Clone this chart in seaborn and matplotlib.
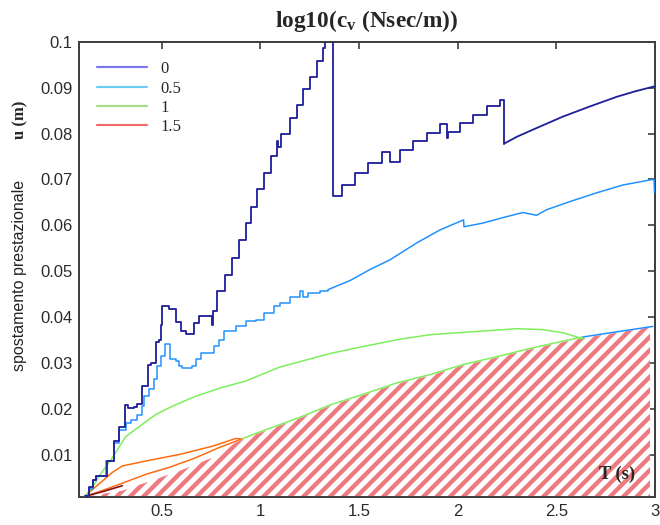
import matplotlib
matplotlib.use("Agg")
import matplotlib.pyplot as plt
from matplotlib.lines import Line2D
import seaborn as sns
import numpy as np

# ---------------- data ----------------
legend_labels = ["0", "0.5", "1", "1.5"]
x_ticks = [0.5, 1, 1.5, 2, 2.5, 3]
x_tick_labels = ["0.5", "1", "1.5", "2", "2.5", "3"]
y_ticks = [0.01, 0.02, 0.03, 0.04, 0.05, 0.06, 0.07, 0.08, 0.09, 0.1]
y_tick_labels = ["0.01", "0.02", "0.03", "0.04", "0.05", "0.06", "0.07", "0.08", "0.09", "0.1"]

# series "0" (step part, then smooth tail)
s0_step_x = [0.110, 0.130, 0.150, 0.166, 0.225, 0.259, 0.285, 0.315, 0.330, 0.360, 0.375, 0.401,
             0.431, 0.445, 0.470, 0.487, 0.496, 0.501, 0.538, 0.572, 0.597, 0.622, 0.665, 0.690,
             0.756, 0.758, 0.781, 0.820, 0.857, 0.893, 0.928, 0.952, 0.984, 1.019, 1.053, 1.083,
             1.092, 1.105, 1.150, 1.185, 1.217, 1.250, 1.286, 1.318, 1.330, 1.370, 1.413, 1.480,
             1.546, 1.615, 1.657, 1.708, 1.776, 1.843, 1.911, 1.945, 1.953, 2.012, 2.080, 2.147,
             2.215, 2.235]
s0_step_y = [0.0010, 0.0030, 0.0045, 0.0054, 0.0086, 0.0130, 0.0160, 0.0208, 0.0202, 0.0205, 0.0210, 0.0251,
             0.0295, 0.0300, 0.0345, 0.0350, 0.0384, 0.0424, 0.0417, 0.0390, 0.0370, 0.0364, 0.0388, 0.0403,
             0.0384, 0.0413, 0.0457, 0.0493, 0.0528, 0.0569, 0.0606, 0.0640, 0.0680, 0.0713, 0.0752, 0.0783,
             0.0770, 0.0800, 0.0834, 0.0862, 0.0897, 0.0924, 0.0958, 0.0986, 0.1050, 0.0663, 0.0688, 0.0714,
             0.0736, 0.0759, 0.0739, 0.0765, 0.0783, 0.0802, 0.0821, 0.0790, 0.0804, 0.0824, 0.0841, 0.0859,
             0.0872, 0.0778]
s0_tail_x = [2.235, 2.300, 2.400, 2.534, 2.670, 2.806, 2.900, 3.000]
s0_tail_y = [0.0778, 0.0793, 0.0812, 0.0837, 0.0859, 0.0880, 0.0892, 0.0903]

# series "0.5"
s05_step_x = [0.110, 0.130, 0.150, 0.166, 0.217, 0.259, 0.285, 0.318, 0.345, 0.376, 0.400, 0.411,
              0.437, 0.462, 0.477, 0.496, 0.518, 0.541, 0.572, 0.588, 0.605, 0.655, 0.673, 0.699,
              0.740, 0.766, 0.791, 0.817, 0.876, 0.926, 0.977, 1.020, 1.070, 1.100, 1.150, 1.200,
              1.215, 1.240, 1.303, 1.343]
s05_step_y = [0.0010, 0.0025, 0.0045, 0.0054, 0.0086, 0.0127, 0.0155, 0.0170, 0.0177, 0.0188, 0.0207, 0.0228,
              0.0243, 0.0265, 0.0294, 0.0315, 0.0341, 0.0308, 0.0305, 0.0293, 0.0290, 0.0293, 0.0310, 0.0322,
              0.0323, 0.0337, 0.0351, 0.0370, 0.0380, 0.0391, 0.0395, 0.0410, 0.0424, 0.0431, 0.0445, 0.0457,
              0.0444, 0.0452, 0.0457, 0.0460]
s05_tail_x = [1.343, 1.455, 1.556, 1.657, 1.793, 1.910, 2.030, 2.032, 2.128, 2.230, 2.330, 2.400,
              2.450, 2.570, 2.705, 2.838, 2.975, 2.995, 2.997]
s05_tail_y = [0.0460, 0.0480, 0.0504, 0.0525, 0.0562, 0.0590, 0.0612, 0.0597, 0.0605, 0.0617, 0.0628, 0.0622,
              0.0634, 0.0652, 0.0671, 0.0688, 0.0699, 0.0700, 0.0672]

# series "1" (upper curve and lower envelope)
s1_x = [0.110, 0.150, 0.183, 0.250, 0.318, 0.386, 0.470, 0.553, 0.673, 0.806, 0.926, 1.095,
        1.353, 1.520, 1.692, 1.860, 2.027, 2.198, 2.300, 2.430, 2.535, 2.620, 2.640]
s1_y = [0.0010, 0.0030, 0.0054, 0.0094, 0.0140, 0.0162, 0.0188, 0.0206, 0.0228, 0.0247, 0.0261, 0.0291,
        0.0321, 0.0336, 0.0351, 0.0362, 0.0367, 0.0372, 0.0375, 0.0373, 0.0366, 0.0355, 0.0352]
s1_low_x = [0.905, 1.015, 1.200, 1.353, 1.520, 1.692, 1.860, 2.027, 2.198, 2.367, 2.535, 2.635]
s1_low_y = [0.0135, 0.0153, 0.0182, 0.0209, 0.0232, 0.0257, 0.0275, 0.0297, 0.0314, 0.0332, 0.0348, 0.0357]
s05_low_x = [2.635, 2.787, 2.990]
s05_low_y = [0.0357, 0.0367, 0.0380]

# orange curves and dark-red start
or_up_x = [0.110, 0.150, 0.250, 0.300, 0.420, 0.588, 0.756, 0.876, 0.905]
or_up_y = [0.0010, 0.0025, 0.0062, 0.0076, 0.0087, 0.0101, 0.0119, 0.0136, 0.0135]
or_low_x = [0.110, 0.150, 0.285, 0.420, 0.538, 0.673, 0.790, 0.876, 0.905]
or_low_y = [0.0010, 0.0015, 0.0036, 0.0058, 0.0073, 0.0094, 0.0116, 0.0130, 0.0135]
dr_x = [0.110, 0.200, 0.300]
dr_y = [0.0010, 0.0020, 0.0033]

# series "1.5" : hatched area boundary
s15_x = [0.120, 0.300, 0.420, 0.588, 0.756, 0.876, 0.905, 1.015, 1.200, 1.353, 1.520, 1.692,
         1.860, 2.027, 2.198, 2.367, 2.535, 2.635, 2.787, 2.975]
s15_y = [0.0010, 0.0022, 0.0040, 0.0065, 0.0094, 0.0127, 0.0133, 0.0151, 0.0180, 0.0207, 0.0230, 0.0255,
         0.0273, 0.0295, 0.0312, 0.0330, 0.0346, 0.0355, 0.0365, 0.0378]

# ---------------- styling ----------------
sns.set_style("white")
plt.rcParams["font.family"] = ["Liberation Sans", "DejaVu Sans"]
plt.rcParams["hatch.linewidth"] = 2.6
plt.rcParams["mathtext.fontset"] = "custom"
plt.rcParams["mathtext.rm"] = "Liberation Serif:bold"
plt.rcParams["mathtext.bf"] = "Liberation Serif:bold"

c_navy = "#20209a"
c_blue = "#1e90ff"
c_green = "#7def5a"
c_orange = "#ff6a10"
c_dred = "#8b1010"
c_hatch = "#ee7a80"

fig = plt.figure(figsize=(5.5, 4.375), dpi=120)
ax = fig.add_axes([79 / 660, 28 / 525, 576 / 660, 455.3 / 525])

# hatched region
ax.fill_between(s15_x, 0, s15_y, facecolor="white", edgecolor=c_hatch, hatch="///",
                linewidth=0, zorder=1)

def line(x, y, color, lw, steps=False):
    kw = dict(drawstyle="steps-post") if steps else {}
    sns.lineplot(x=x, y=y, color=color, lw=lw, estimator=None, sort=False, ax=ax,
                 legend=False, zorder=3, **kw)

line(or_up_x, or_up_y, c_orange, 0.9)
line(or_low_x, or_low_y, c_orange, 0.9)
line(dr_x, dr_y, c_dred, 1.0)
line(s1_x, s1_y, c_green, 0.9)
line(s1_low_x, s1_low_y, c_green, 0.9)
line(s05_low_x, s05_low_y, c_blue, 0.9)
line(s05_step_x, s05_step_y, c_blue, 0.9, steps=True)
line(s05_tail_x, s05_tail_y, c_blue, 0.9)
line(s0_step_x, s0_step_y, c_navy, 1.1, steps=True)
line(s0_tail_x, s0_tail_y, c_navy, 1.1)

ax.set_xlim(0.081, 3.0)
ax.set_ylim(0.00085, 0.1)
ax.set_xticks(x_ticks)
ax.set_xticklabels(x_tick_labels)
ax.set_yticks(y_ticks)
ax.set_yticklabels(y_tick_labels)
ax.set_xlabel("")
ax.set_ylabel("")
ax.tick_params(direction="in", length=4, width=1.0, colors="#404040", labelcolor="#2b2b2b",
               labelsize=10, top=True, right=True, pad=4)
for s in ax.spines.values():
    s.set_color("#404040")
    s.set_linewidth(1.2)
    s.set_visible(True)

# title and labels
ax.set_title(r"log10(c$_\mathregular{v}$ (Nsec/m))", family="Liberation Serif",
             fontweight="bold", fontsize=14, pad=9)
fig.text(20 / 660, 1 - 120 / 525, "u (m)", rotation=90, ha="center", va="center",
         family="Liberation Serif", fontweight="bold", fontsize=10)
fig.text(20 / 660, 1 - 275 / 525, "spostamento prestazionale", rotation=90, ha="center",
         va="center", family="Liberation Sans", fontsize=9.6, color="#222222")
ax.text(2.807, 0.0058, "T (s)", ha="center", va="center", family="Liberation Serif",
        fontweight="bold", fontsize=11, zorder=4)

# legend
leg_colors = ["#7878ec", "#6ccdf3", "#a6dc88", "#f06a6a"]
handles = [Line2D([0], [0], color=c, lw=1.3) for c in leg_colors]
ax.legend(handles=handles, labels=legend_labels, loc="upper left", bbox_to_anchor=(0.031, 0.957),
          frameon=False, borderpad=0, borderaxespad=0, handlelength=3.0, handletextpad=0.8,
          labelspacing=0.2, prop={"family": "Liberation Serif", "size": 10})

fig.savefig("out.png", dpi=120)
